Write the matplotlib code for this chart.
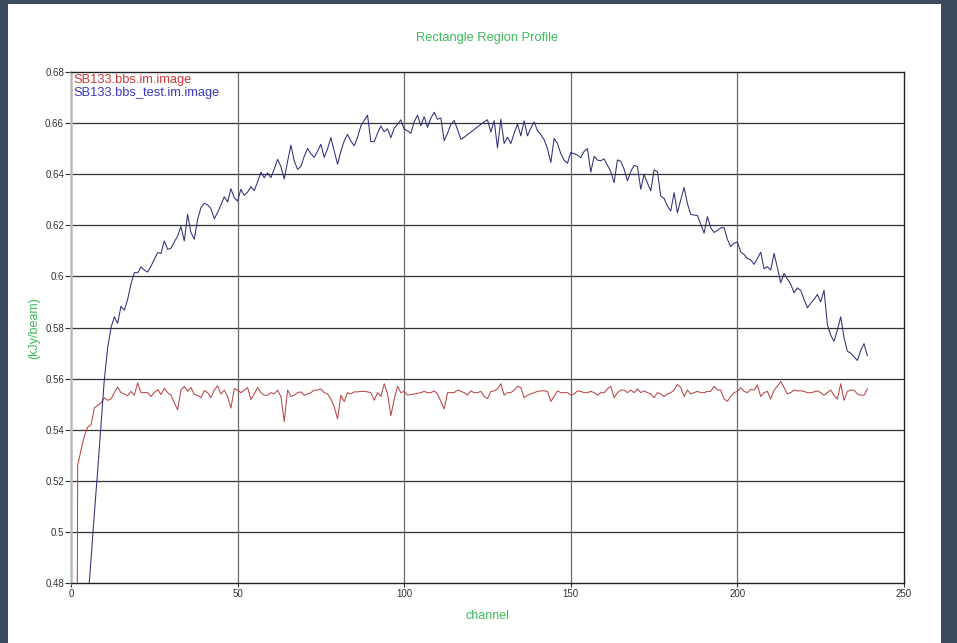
import matplotlib
matplotlib.use("Agg")
import matplotlib.pyplot as plt
from matplotlib.patches import Rectangle
import numpy as np

plt.rcParams['font.family'] = ['Liberation Sans', 'DejaVu Sans']

title = "Rectangle Region Profile"
x_label = "channel"
y_label = "(kJy/beam)"
series_names = ["SB133.bbs.im.image", "SB133.bbs_test.im.image"]
x_ticks = [0, 50, 100, 150, 200, 250]
y_ticks = [0.48, 0.5, 0.52, 0.54, 0.56, 0.58, 0.6, 0.62, 0.64, 0.66, 0.68]
y_tick_labels = ["0.48", "0.5", "0.52", "0.54", "0.56", "0.58", "0.6", "0.62", "0.64", "0.66", "0.68"]

red_values = [
    0.0, 0.06, 0.526, 0.532, 0.5375, 0.541, 0.5418, 0.5485, 0.5495, 0.5505,
    0.5525, 0.5515, 0.552, 0.5545, 0.5567, 0.5545, 0.554, 0.5533, 0.555, 0.5535,
    0.5583, 0.5545, 0.5545, 0.5545, 0.553, 0.5545, 0.5557, 0.5538, 0.5562, 0.5545,
    0.5535, 0.5505, 0.5478, 0.5555, 0.557, 0.555, 0.5565, 0.5538, 0.5535, 0.5525,
    0.5553, 0.5545, 0.5525, 0.5555, 0.5572, 0.554, 0.5555, 0.553, 0.5485, 0.556,
    0.5555, 0.5545, 0.5555, 0.5565, 0.5518, 0.554, 0.5565, 0.5545, 0.5535, 0.5535,
    0.5545, 0.554, 0.5555, 0.553, 0.5432, 0.5555, 0.553, 0.5535, 0.5545, 0.5548,
    0.5535, 0.554, 0.5545, 0.5555, 0.5555, 0.556, 0.5545, 0.554, 0.552, 0.549,
    0.5442, 0.5535, 0.551, 0.5545, 0.554, 0.5548, 0.5548, 0.555, 0.555, 0.5548,
    0.5545, 0.5515, 0.5545, 0.553, 0.558, 0.554, 0.5455, 0.552, 0.557, 0.5545,
    0.555, 0.5535, 0.5538, 0.554, 0.5542, 0.5545, 0.555, 0.5545, 0.5545, 0.5552,
    0.554, 0.551, 0.5481, 0.5545, 0.5545, 0.5545, 0.5555, 0.555, 0.5545, 0.5535,
    0.5552, 0.5545, 0.5545, 0.555, 0.553, 0.5522, 0.555, 0.5552, 0.556, 0.558,
    0.5535, 0.5545, 0.5545, 0.5555, 0.557, 0.5565, 0.5525, 0.5535, 0.554, 0.5545,
    0.555, 0.5552, 0.5552, 0.555, 0.5511, 0.553, 0.5552, 0.5545, 0.5545, 0.5545,
    0.5535, 0.554, 0.5552, 0.555, 0.5545, 0.5545, 0.555, 0.5545, 0.5535, 0.5545,
    0.5545, 0.556, 0.557, 0.5525, 0.5545, 0.5555, 0.5555, 0.5545, 0.5555, 0.5545,
    0.556, 0.5545, 0.5552, 0.5545, 0.554, 0.5525, 0.5545, 0.554, 0.553, 0.554,
    0.5545, 0.5555, 0.5577, 0.5565, 0.553, 0.5555, 0.554, 0.5545, 0.555, 0.5545,
    0.5545, 0.555, 0.555, 0.557, 0.5555, 0.5555, 0.552, 0.5511, 0.553, 0.5545,
    0.555, 0.5565, 0.555, 0.5545, 0.5558, 0.5555, 0.5575, 0.553, 0.5545, 0.555,
    0.552, 0.5555, 0.557, 0.5589, 0.5565, 0.554, 0.5545, 0.5555, 0.5552, 0.5552,
    0.555, 0.5545, 0.5545, 0.5548, 0.5552, 0.5545, 0.5535, 0.5545, 0.5555, 0.5535,
    0.552, 0.558, 0.5515, 0.555, 0.5555, 0.5555, 0.554, 0.5535, 0.5535, 0.556,
]

blue_values = [
    0.38, 0.41, 0.435, 0.45, 0.462, 0.472, 0.489, 0.507, 0.524, 0.542,
    0.5596, 0.572, 0.5799, 0.5842, 0.5816, 0.5883, 0.5868, 0.591, 0.597, 0.6015,
    0.6014, 0.6037, 0.6025, 0.6017, 0.604, 0.6067, 0.6093, 0.609, 0.6139, 0.6106,
    0.611, 0.6135, 0.6158, 0.6195, 0.6139, 0.6243, 0.6172, 0.6145, 0.6223, 0.6269,
    0.6286, 0.628, 0.6265, 0.6226, 0.625, 0.628, 0.6312, 0.6291, 0.6343, 0.6308,
    0.6295, 0.6341, 0.6317, 0.633, 0.6351, 0.6336, 0.637, 0.6408, 0.6386, 0.6405,
    0.6387, 0.642, 0.6458, 0.643, 0.6381, 0.645, 0.6514, 0.6452, 0.6419, 0.643,
    0.647, 0.6501, 0.648, 0.6466, 0.649, 0.6517, 0.6466, 0.65, 0.6543, 0.649,
    0.6439, 0.649, 0.653, 0.6556, 0.653, 0.6511, 0.6545, 0.6589, 0.661, 0.6631,
    0.6527, 0.6528, 0.656, 0.6589, 0.6566, 0.6578, 0.6543, 0.658, 0.6595, 0.6613,
    0.6576, 0.657, 0.656, 0.6605, 0.6631, 0.659, 0.6625, 0.6583, 0.662, 0.6642,
    0.6615, 0.662, 0.6531, 0.656, 0.6595, 0.661, 0.6575, 0.6537, 0.6545, 0.6555,
    0.6565, 0.6575, 0.6585, 0.6595, 0.6605, 0.6613, 0.6565, 0.661, 0.6503, 0.6615,
    0.652, 0.6545, 0.652, 0.656, 0.6596, 0.655, 0.6609, 0.655, 0.658, 0.6605,
    0.657, 0.6555, 0.6535, 0.65, 0.6446, 0.654, 0.652, 0.648, 0.6455, 0.6443,
    0.6485, 0.648, 0.6475, 0.6465, 0.649, 0.65, 0.6408, 0.647, 0.6455, 0.6453,
    0.646, 0.6435, 0.641, 0.6367, 0.6456, 0.645, 0.642, 0.6374, 0.641, 0.6435,
    0.643, 0.6341, 0.64, 0.6365, 0.6335, 0.6417, 0.641, 0.6315, 0.6305, 0.6275,
    0.6256, 0.6328, 0.6249, 0.630, 0.6348, 0.6285, 0.6243, 0.624, 0.6238, 0.6205,
    0.6169, 0.6234, 0.619, 0.6172, 0.618, 0.619, 0.6191, 0.6145, 0.6117, 0.613,
    0.6135, 0.6095, 0.6086, 0.607, 0.6065, 0.6047, 0.607, 0.6095, 0.603, 0.6038,
    0.6025, 0.609, 0.6035, 0.5975, 0.6012, 0.599, 0.597, 0.5936, 0.5955, 0.5945,
    0.591, 0.5877, 0.5895, 0.591, 0.5929, 0.590, 0.5946, 0.5812, 0.577, 0.5746,
    0.579, 0.5842, 0.576, 0.5707, 0.570, 0.5685, 0.5671, 0.571, 0.5737, 0.569,
]

channels = np.arange(len(red_values))

W, H = 957, 643
fig = plt.figure(figsize=(W / 100, H / 100), dpi=100)
fig.patch.set_facecolor('#3b4b5d')
# white panel
fig.add_artist(Rectangle((8 / W, 0), 1 - 8 / W - 16 / W, 1 - 4 / H,
                         transform=fig.transFigure, facecolor='white',
                         edgecolor='none', zorder=0))

left, right, top, bottom = 71, 904, 72, 583
ax = fig.add_axes([left / W, 1 - bottom / H, (right - left) / W, (bottom - top) / H])
ax.set_facecolor('white')

ax.plot(channels, red_values, color='#b84646', lw=0.75, zorder=3)
ax.plot(channels, blue_values, color='#2c3078', lw=0.75, zorder=3)

ax.set_xlim(0, 250)
ax.set_ylim(0.48, 0.68)
ax.set_xticks(x_ticks)
ax.set_yticks(y_ticks)
ax.set_yticklabels(y_tick_labels)

for yv in y_ticks[1:-1]:
    ax.axhline(yv, color='#333333', lw=0.9, zorder=1)
for xv in x_ticks[1:-1]:
    ax.axvline(xv, color='#6a6a6a', lw=0.9, zorder=1)

for s in ['top', 'right', 'bottom']:
    ax.spines[s].set_color('#222222')
    ax.spines[s].set_linewidth(1.0)
ax.spines['left'].set_color('#bbbbbb')
ax.spines['left'].set_linewidth(1.8)

ax.tick_params(axis='both', labelsize=7, colors='#333333', length=4, width=0.8,
               direction='out', pad=1)
ax.tick_params(axis='x', length=3)

green = '#3cbb5a'
fig.text((left + right) / 2 / W, 1 - 38 / H, title, color=green, fontsize=9.3,
         ha='center', va='center')
fig.text((left + right) / 2 / W, 1 - 616 / H, x_label, color=green, fontsize=9,
         ha='center', va='center')
fig.text(34 / W, 1 - 328 / H, y_label, color=green, fontsize=9,
         ha='center', va='center', rotation=90)

ax.text(0.003, 0.997, series_names[0], transform=ax.transAxes, color='#d03a3a',
        fontsize=9.3, ha='left', va='top')
ax.text(0.003, 0.970, series_names[1], transform=ax.transAxes, color='#3a3ac0',
        fontsize=9.3, ha='left', va='top')

fig.savefig('out.png', dpi=100, facecolor=fig.get_facecolor())
